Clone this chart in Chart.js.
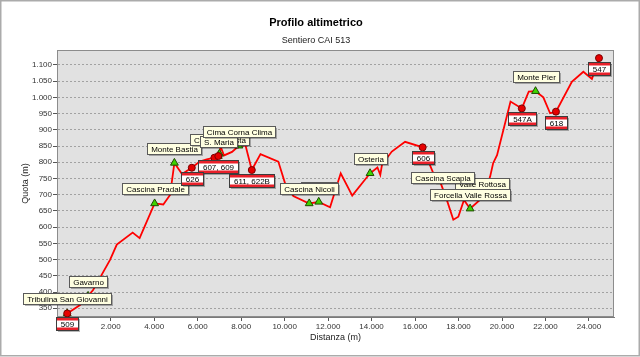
<!DOCTYPE html>
<html>
<head>
<meta charset="utf-8">
<script src="https://cdn.jsdelivr.net/npm/chart.js@4/dist/chart.umd.min.js"></script>
<style>
html, body { margin: 0; padding: 0; background: #fff; }
#wrap { width: 640px; height: 357px; }
</style>
</head>
<body>
<div id="wrap"><canvas id="profilo" width="640" height="357"></canvas></div>
<script>
// profilo altimetrico: distanza progressiva (m) e quota (m)
const distanza = [0, 590, 960, 1190, 1970, 2280, 3010, 3330, 4020, 4420, 4730, 4930, 5280, 5730, 6090,
  6420, 6770, 6950, 7000, 7050, 7210, 7580, 7900, 8200, 8490, 8890, 9710, 10020, 10400, 11130,
  11570, 12090, 12580, 13110, 13930, 14270, 14400, 14480, 14930, 15540, 16350, 16840, 17150, 17460, 17760,
  17990, 18250, 18530, 19070, 19450, 19590, 19770, 20390, 20910, 21230, 21540, 21900, 22210, 22480, 23210,
  23740, 24135, 24460];
const quota = [334, 360, 388, 406, 499, 546, 583, 566, 673, 670, 699, 798, 764, 783, 802,
  809, 814, 819, 826, 849, 821, 832, 851, 852, 776, 825, 802, 735, 696, 673,
  678, 661, 766, 697, 766, 784, 761, 793, 833, 863, 846, 766, 741, 684, 623,
  632, 684, 657, 689, 755, 797, 822, 987, 966, 1018, 1019, 1000, 951, 956, 1048,
  1079, 1057, 1121];

// localita' (triangoli verdi), nell'ordine in cui vengono disegnate le etichette
const localitaNomi = ["Tribulina San Giovanni", "Gavarno", "Cascina Pradale", "Monte Bastia", "Cascina Costa",
  "S. Maria", "Cima Corna Clima", "Roccolo", "Cascina Nicoli", "Osteria", "Valle Rottosa",
  "Cascina Scapla", "Forcella Valle Rossa", "Monte Pier"];
const localitaDist = [0, 960, 4020, 4930, 7000, 6950, 7900, 11570, 11130, 13930, 19070, 17150, 18530, 21540];
const localitaQuota = [334, 388, 673, 798, 826, 819, 851, 678, 673, 766, 689, 741, 657, 1019];

// incroci con altri sentieri (pallini rossi)
const incrociDist = [0, 5730, 6770, 6950, 8490, 16350, 20910, 22480, 24460];
const incrociQuota = [334, 783, 814, 819, 776, 846, 966, 956, 1121];
const sentieriNomi = ["509", "607, 609", "626", "611, 622B", "606", "547A", "618", "547"];
const sentieriIncrocio = [0, 3, 1, 4, 5, 6, 7, 8];

// assi
const xMin = -470, xMax = 25150;
const xTacche = [0, 2000, 4000, 6000, 8000, 10000, 12000, 14000, 16000, 18000, 20000, 22000, 24000];
const yMin = 323, yMax = 1146;
const yTacche = [350, 400, 450, 500, 550, 600, 650, 700, 750, 800, 850, 900, 950, 1000, 1050, 1100];

// stile
const FONT = "'Liberation Sans', Arial, sans-serif";
const spostaEtichette = { "Cascina Scapla": [2, 11] };

function migliaia(v) {
  return String(v).replace(/\B(?=(\d{3})+(?!\d))/g, ".");
}

const sfondo = {
  id: "sfondo",
  beforeDraw(chart) {
    const { ctx, chartArea: a } = chart;
    ctx.save();
    ctx.fillStyle = "#fff";
    ctx.fillRect(0, 0, chart.width, chart.height);
    ctx.strokeStyle = "#ababab";
    ctx.lineWidth = 1.5;
    ctx.strokeRect(0.75, 0.75, 638.5, 355);
    ctx.fillStyle = "#e1e1e1";
    ctx.fillRect(a.left, a.top, a.right - a.left, a.bottom - a.top);
    ctx.restore();
  },
  beforeDatasetsDraw(chart) {
    const { ctx, chartArea: a } = chart;
    ctx.save();
    ctx.strokeStyle = "#8c8c8c";
    ctx.lineWidth = 1;
    ctx.strokeRect(Math.round(a.left) + 0.5, Math.round(a.top) + 0.5,
      Math.round(a.right - a.left) - 1, Math.round(a.bottom - a.top) - 1);
    ctx.restore();
  }
};

const etichette = {
  id: "etichette",
  afterDatasetsDraw(chart) {
    const { ctx, scales: { x, y } } = chart;
    ctx.save();
    ctx.font = "8px " + FONT;
    ctx.textAlign = "center";
    ctx.textBaseline = "middle";

    // nomi delle localita'
    localitaNomi.forEach((nome, i) => {
      const px = x.getPixelForValue(localitaDist[i]);
      const py = y.getPixelForValue(localitaQuota[i]);
      const [dx, dy] = spostaEtichette[nome] || [0, 0];
      const w = Math.round(ctx.measureText(nome).width + 7);
      const h = 11;
      const l = Math.round(px - w / 2 + dx) + 0.5;
      const t = Math.round(py - 9 - h + dy) + 0.5;
      ctx.fillStyle = "rgba(0,0,0,0.28)";
      ctx.fillRect(l + 1.5, t + 1.5, w, h);
      ctx.fillStyle = "#ffffe1";
      ctx.fillRect(l, t, w, h);
      ctx.strokeStyle = "#5a5a5a";
      ctx.lineWidth = 1;
      ctx.strokeRect(l, t, w, h);
      ctx.fillStyle = "#000";
      ctx.fillText(nome, l + w / 2, t + h / 2 + 0.5);
    });

    // numeri dei sentieri (segnavia bianco-rosso)
    sentieriNomi.forEach((nome, i) => {
      const k = sentieriIncrocio[i];
      const px = x.getPixelForValue(incrociDist[k]);
      const py = y.getPixelForValue(incrociQuota[k]);
      const w = Math.round(ctx.measureText(nome).width + 9);
      const h = 13;
      const l = Math.round(px - w / 2) + 0.5;
      const t = Math.round(py + 4) + 0.5;
      ctx.fillStyle = "rgba(0,0,0,0.28)";
      ctx.fillRect(l + 1.5, t + 1.5, w, h);
      ctx.fillStyle = "#fff";
      ctx.fillRect(l, t, w, h);
      ctx.fillStyle = "#e8202a";
      ctx.fillRect(l, t, w, 3);
      ctx.fillRect(l, t + h - 3, w, 3);
      ctx.strokeStyle = "#3c3c3c";
      ctx.lineWidth = 1;
      ctx.strokeRect(l, t, w, h);
      ctx.fillStyle = "#000";
      ctx.fillText(nome, l + w / 2, t + h / 2 + 0.5);
    });
    ctx.restore();
  }
};

const tickFont = { family: FONT, size: 8 };

new Chart(document.getElementById("profilo"), {
  type: "scatter",
  data: {
    datasets: [
      {
        label: "Incroci",
        data: incrociDist.map((d, i) => ({ x: d, y: incrociQuota[i] })),
        pointStyle: "circle",
        pointRadius: 3.5,
        pointBackgroundColor: "#e60000",
        pointBorderColor: "#7a0000",
        pointBorderWidth: 1,
        order: 1
      },
      {
        label: "Localita",
        data: localitaDist.map((d, i) => ({ x: d, y: localitaQuota[i] })),
        pointStyle: "triangle",
        pointRadius: 4.5,
        pointBackgroundColor: "#3ed400",
        pointBorderColor: "#1f4a00",
        pointBorderWidth: 1,
        order: 2
      },
      {
        label: "Profilo",
        data: distanza.map((d, i) => ({ x: d, y: quota[i] })),
        showLine: true,
        borderColor: "#ff0000",
        borderWidth: 1.8,
        pointRadius: 0,
        tension: 0,
        order: 3
      }
    ]
  },
  options: {
    responsive: false,
    animation: false,
    layout: { padding: { left: 18, right: 26, top: 0, bottom: 8 } },
    plugins: {
      legend: { display: false },
      tooltip: { enabled: false },
      title: {
        display: true,
        text: "Profilo altimetrico",
        color: "#000",
        font: { family: FONT, size: 11, weight: "bold" },
        padding: { top: 16, bottom: 6 }
      },
      subtitle: {
        display: true,
        text: "Sentiero CAI 513",
        color: "#222",
        font: { family: FONT, size: 9 },
        padding: { top: 0, bottom: 4 }
      }
    },
    scales: {
      x: {
        type: "linear",
        min: xMin,
        max: xMax,
        afterBuildTicks: s => { s.ticks = xTacche.map(v => ({ value: v })); },
        ticks: {
          autoSkip: false,
          maxRotation: 0,
          padding: 1,
          color: "#333",
          font: tickFont,
          callback: v => migliaia(v)
        },
        grid: { drawOnChartArea: false, tickLength: 4, color: "#555" },
        border: { color: "#7a7a7a" },
        title: {
          display: true,
          text: "Distanza (m)",
          color: "#222",
          font: { family: FONT, size: 9 },
          padding: { top: 0, bottom: 6 }
        },
        afterFit: s => { s.height = 32; }
      },
      y: {
        min: yMin,
        max: yMax,
        afterBuildTicks: s => { s.ticks = yTacche.map(v => ({ value: v })); },
        ticks: {
          autoSkip: false,
          padding: 1,
          color: "#333",
          font: tickFont,
          callback: v => migliaia(v)
        },
        grid: { color: "#a2a2a2", tickLength: 4, tickColor: "#555", tickBorderDash: [] },
        border: { color: "#7a7a7a", dash: [2, 2] },
        title: {
          display: true,
          text: "Quota (m)",
          color: "#222",
          font: { family: FONT, size: 9 },
          padding: { top: 2, bottom: 0 }
        },
        afterFit: s => { s.width = 39; }
      }
    }
  },
  plugins: [sfondo, etichette]
});
</script>
</body>
</html>
